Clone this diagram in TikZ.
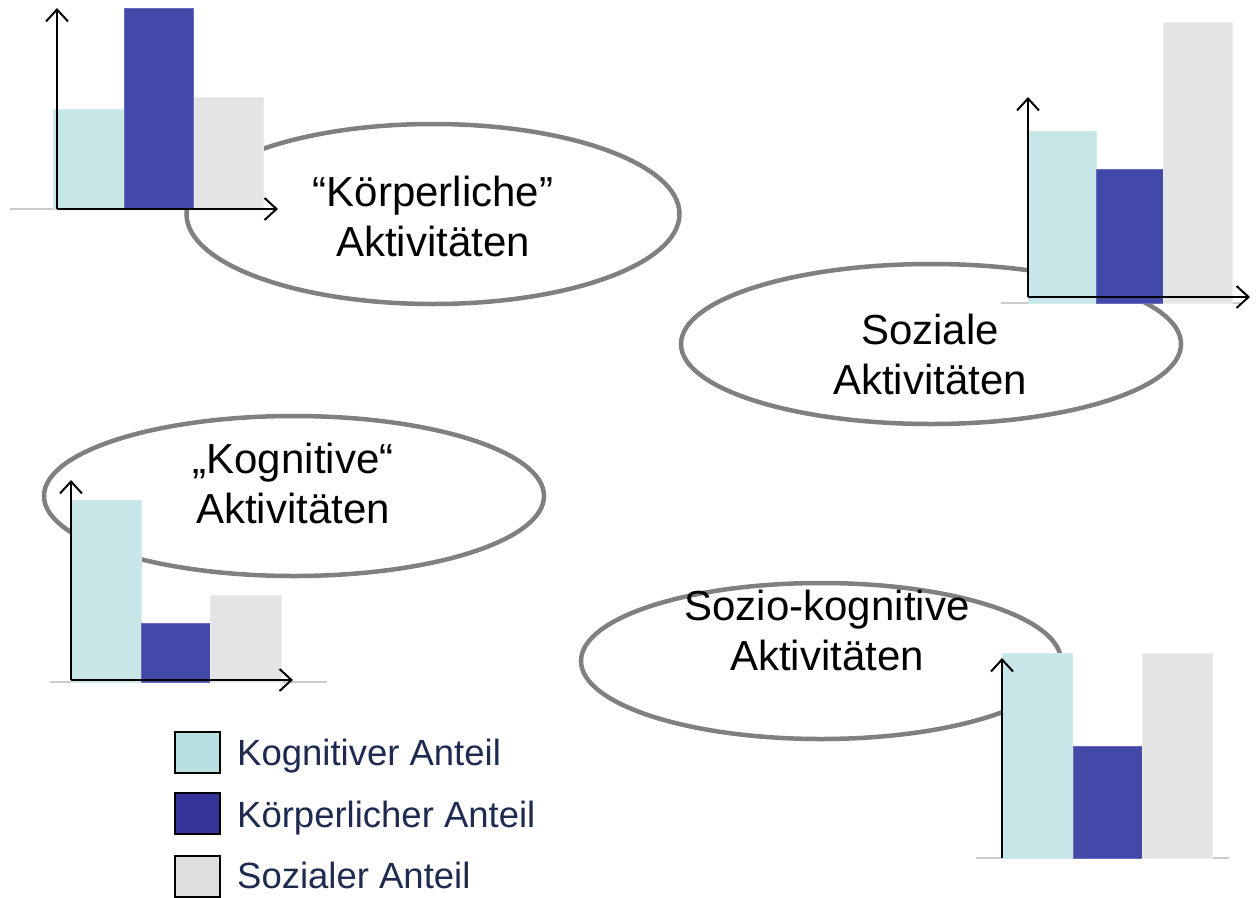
\documentclass[tikz,border=0pt]{standalone}
\usepackage{fontspec}
\setmainfont{Liberation Sans}
\usetikzlibrary{arrows.meta,shapes.geometric}
\definecolor{cogfill}{HTML}{C6E6E8}
\definecolor{bodyfill}{HTML}{4249A8}
\definecolor{socfill}{HTML}{E4E4E4}
\definecolor{cogleg}{HTML}{B8E0E2}
\definecolor{bodyleg}{HTML}{333399}
\definecolor{socleg}{HTML}{DEDEDE}
\definecolor{ringgray}{HTML}{808080}
\definecolor{legtext}{HTML}{1F2A50}
\definecolor{basegray}{HTML}{CBCBCB}
\tikzset{
  activity/.style={ellipse, draw=ringgray, line width=4.5pt, fill=white, inner sep=0pt},
  activitytext/.style={align=center, anchor=base, inner sep=0pt,
    font=\fontsize{42}{50}\selectfont},
  cogbar/.style={fill=cogfill, draw=cogfill!80!white, line width=1pt},
  bodybar/.style={fill=bodyfill, draw=bodyfill!80!white, line width=1pt},
  socbar/.style={fill=socfill, draw=socfill!70!white, line width=1pt},
  baseline/.style={draw=basegray, line width=2pt},
  axis/.style={draw=black, line width=2pt, -{Straight Barb[length=12pt, width=22pt, line width=2pt]}},
  legbox/.style={draw=black, line width=2pt, minimum width=45pt, minimum height=41pt, inner sep=0pt},
  legtext/.style={anchor=base west, inner sep=0pt, text=legtext,
    font=\fontsize{36.5}{42}\selectfont},
}
\begin{document}
\begin{tikzpicture}[x=1pt, y=-1pt]
\useasboundingbox (0,0) rectangle (1258,897);

% activity ellipses (underneath the charts)
\node[activity, minimum width=493pt, minimum height=180pt] (e1) at (433,214) {};
\node[activity, minimum width=500pt, minimum height=160pt] (e2) at (931,344) {};
\node[activity, minimum width=500pt, minimum height=160pt] (e3) at (294,496) {};
\node[activity, minimum width=480pt, minimum height=156pt] (e4) at (821,661) {};

% labels, placed by the baseline of their second line
\node[activitytext] (t1) at (433,256) {“Körperliche”\\Aktivitäten};
\node[activitytext] (t2) at (930,394) {Soziale\\Aktivitäten};
\node[activitytext] (t3) at (293,523) {„Kognitive“\\Aktivitäten};
\node[activitytext] (t4) at (827,670) {Sozio-kognitive\\Aktivitäten};

% chart: physical activities
\coordinate (o1) at (57,209);
\draw[baseline] (10,209) -- (275,209);
\draw[cogbar] (53,209) rectangle (124,109);
\draw[bodybar] (124,209) rectangle (193,8);
\draw[socbar] (194,209) rectangle (263,97);
\draw[axis] (o1) -- (57,8);
\draw[axis] (o1) -- (278,209);

% chart: social activities
\coordinate (o2) at (1028,297);
\draw[baseline] (1001,303) -- (1240,303);
\draw[cogbar] (1028,303) rectangle (1096,131);
\draw[bodybar] (1096,303) rectangle (1163,169);
\draw[socbar] (1163,303) rectangle (1232,22);
\draw[axis] (o2) -- (1028,97);
\draw[axis] (o2) -- (1250,297);

% chart: cognitive activities
\coordinate (o3) at (71,680);
\draw[baseline] (50,682) -- (327,682);
\draw[cogbar] (71,682) rectangle (141,500);
\draw[bodybar] (141,682) rectangle (210,623);
\draw[socbar] (210,682) rectangle (281,595);
\draw[axis] (o3) -- (71,480);
\draw[axis] (o3) -- (293,680);

% chart: socio-cognitive activities
\coordinate (o4) at (1002,858);
\draw[baseline] (976,858) -- (1229,858);
\draw[cogbar] (1002,858) rectangle (1072,653);
\draw[bodybar] (1073,858) rectangle (1142,746);
\draw[socbar] (1142,858) rectangle (1212,653);
\draw[axis] (o4) -- (1002,658);

% legend
\node[legbox, fill=cogleg] (l1) at (197.5,752.5) {};
\node[legbox, fill=bodyleg] (l2) at (197.5,813.5) {};
\node[legbox, fill=socleg] (l3) at (197.5,876) {};
\node[legtext] (lt1) at (237,765) {Kognitiver Anteil};
\node[legtext] (lt2) at (237,827) {Körperlicher Anteil};
\node[legtext] (lt3) at (237,888) {Sozialer Anteil};
\end{tikzpicture}
\end{document}
